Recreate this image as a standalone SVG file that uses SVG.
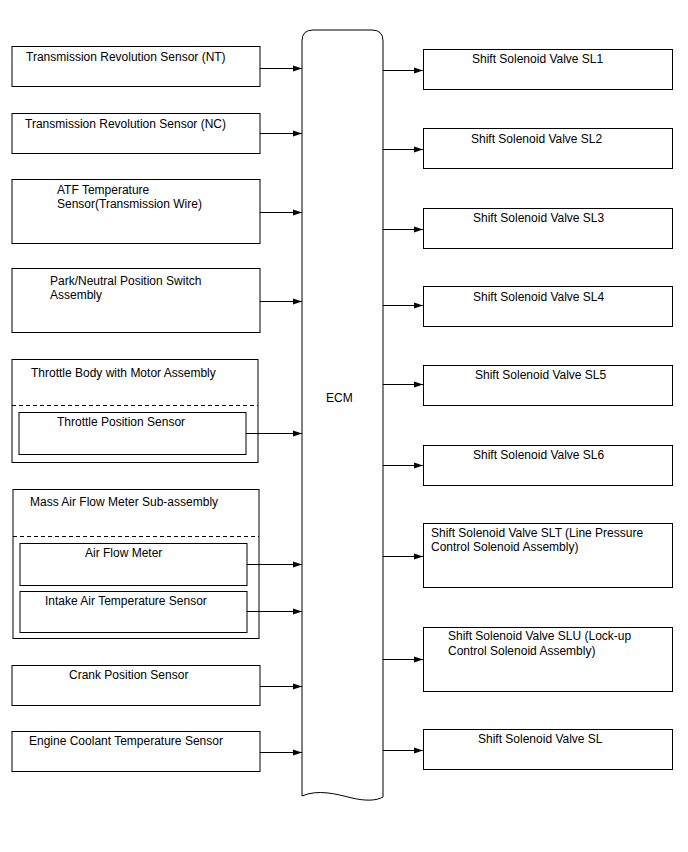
<svg xmlns="http://www.w3.org/2000/svg" width="688" height="852" viewBox="0 0 688 852">
<style>
.b{fill:#fff;stroke:#000;stroke-width:1}
.d{stroke:#000;stroke-width:1;stroke-dasharray:4,3;fill:none}
text{font-family:"Liberation Sans",Arial,sans-serif;font-size:12px;fill:#000}
.c line{stroke:#000;stroke-width:1;marker-end:url(#ah)}
</style>
<defs>
<marker id="ah" markerWidth="10" markerHeight="8" refX="9" refY="4" orient="auto" markerUnits="userSpaceOnUse">
<path d="M0,1 L9,4 L0,7 Z" fill="#000"/>
</marker>
</defs>
<rect width="688" height="852" fill="#fff"/>
<g id="ecm">
<path class="b" d="M302,796 L302,41 Q302,30 313,30 L372,30 Q383,30 383,41 L383,797 C376,801 365,801 352,798 C336,794 318,789 302,796 Z"/>
<text x="326" y="402">ECM</text>
</g>
<g id="nt"><rect class="b" x="12" y="46.5" width="248" height="40"/><text x="26" y="61">Transmission Revolution Sensor (NT)</text></g>
<g id="nc"><rect class="b" x="12" y="113.5" width="248" height="40"/><text x="25" y="128">Transmission Revolution Sensor (NC)</text></g>
<g id="atf"><rect class="b" x="12" y="179.5" width="248" height="64"/><text x="57" y="194">ATF Temperature</text><text x="57" y="208">Sensor(Transmission Wire)</text></g>
<g id="pnp"><rect class="b" x="12" y="268.5" width="248" height="64"/><text x="50" y="285">Park/Neutral Position Switch</text><text x="50" y="299">Assembly</text></g>
<g id="throttle"><rect class="b" x="12" y="359.5" width="246" height="103"/><line class="d" x1="12" y1="405.5" x2="258" y2="405.5"/><text x="31" y="377">Throttle Body with Motor Assembly</text>
<g id="tps"><rect class="b" x="19" y="412.5" width="227" height="42"/><text x="57" y="426">Throttle Position Sensor</text></g></g>
<g id="maf"><rect class="b" x="13" y="489.5" width="246" height="149"/><line class="d" x1="13" y1="536.5" x2="259" y2="536.5"/><text x="30" y="506">Mass Air Flow Meter Sub-assembly</text>
<g id="afm"><rect class="b" x="20" y="543.5" width="227" height="42"/><text x="85" y="557">Air Flow Meter</text></g>
<g id="iat"><rect class="b" x="20" y="591.5" width="227" height="41"/><text x="45" y="605">Intake Air Temperature Sensor</text></g></g>
<g id="crank"><rect class="b" x="12" y="665.5" width="248" height="40"/><text x="69" y="679">Crank Position Sensor</text></g>
<g id="ect"><rect class="b" x="12" y="731.5" width="248" height="40"/><text x="29" y="745">Engine Coolant Temperature Sensor</text></g>
<g id="sl1"><rect class="b" x="423.5" y="49.5" width="249" height="40"/><text x="472" y="63">Shift Solenoid Valve SL1</text></g>
<g id="sl2"><rect class="b" x="423.5" y="128.5" width="249" height="40"/><text x="471" y="143">Shift Solenoid Valve SL2</text></g>
<g id="sl3"><rect class="b" x="423.5" y="208.5" width="249" height="40"/><text x="473" y="222">Shift Solenoid Valve SL3</text></g>
<g id="sl4"><rect class="b" x="423.5" y="286.5" width="249" height="40"/><text x="473" y="301">Shift Solenoid Valve SL4</text></g>
<g id="sl5"><rect class="b" x="423.5" y="365.5" width="249" height="40"/><text x="475" y="379">Shift Solenoid Valve SL5</text></g>
<g id="sl6"><rect class="b" x="423.5" y="445.5" width="249" height="40"/><text x="473" y="459">Shift Solenoid Valve SL6</text></g>
<g id="slt"><rect class="b" x="423.5" y="523.5" width="249" height="64"/><text x="431" y="537">Shift Solenoid Valve SLT (Line Pressure</text><text x="431" y="551">Control Solenoid Assembly)</text></g>
<g id="slu"><rect class="b" x="423.5" y="627.5" width="249" height="64"/><text x="448" y="640">Shift Solenoid Valve SLU (Lock-up</text><text x="448" y="655">Control Solenoid Assembly)</text></g>
<g id="sl"><rect class="b" x="423.5" y="729.5" width="249" height="40"/><text x="478" y="743">Shift Solenoid Valve SL</text></g>
<g id="connectors" class="c">
<line x1="260" y1="68.5" x2="302" y2="68.5"/>
<line x1="260" y1="133.5" x2="302" y2="133.5"/>
<line x1="260" y1="212.5" x2="302" y2="212.5"/>
<line x1="260" y1="301.5" x2="302" y2="301.5"/>
<line x1="246" y1="433.5" x2="302" y2="433.5"/>
<line x1="247" y1="564.5" x2="302" y2="564.5"/>
<line x1="247" y1="611.5" x2="302" y2="611.5"/>
<line x1="260" y1="686.5" x2="302" y2="686.5"/>
<line x1="260" y1="752.5" x2="302" y2="752.5"/>
<line x1="383" y1="70.5" x2="423" y2="70.5"/>
<line x1="383" y1="149.5" x2="423" y2="149.5"/>
<line x1="383" y1="229.5" x2="423" y2="229.5"/>
<line x1="383" y1="305.5" x2="423" y2="305.5"/>
<line x1="383" y1="384.5" x2="423" y2="384.5"/>
<line x1="383" y1="465.5" x2="423" y2="465.5"/>
<line x1="383" y1="556.5" x2="423" y2="556.5"/>
<line x1="383" y1="659.5" x2="423" y2="659.5"/>
<line x1="383" y1="750.5" x2="423" y2="750.5"/>
</g>
</svg>
